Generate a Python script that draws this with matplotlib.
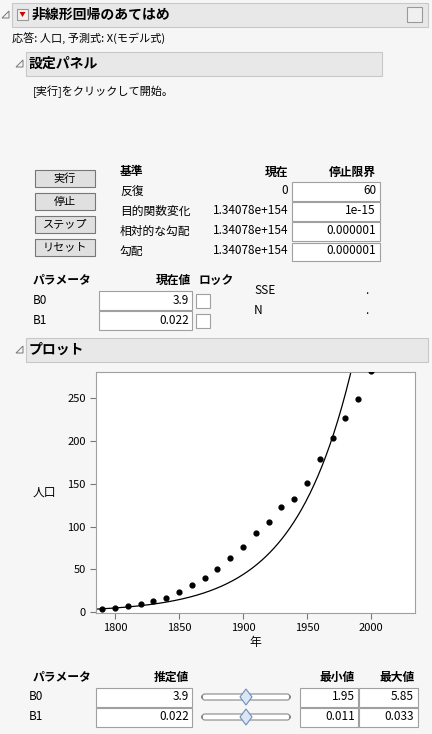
import numpy as np
import matplotlib.pyplot as plt
from matplotlib.patches import Rectangle, FancyBboxPatch, Polygon

plt.rcParams['font.family'] = ['Noto Sans CJK JP', 'DejaVu Sans']

years = [1790, 1800, 1810, 1820, 1830, 1840, 1850, 1860, 1870, 1880, 1890,
         1900, 1910, 1920, 1930, 1940, 1950, 1960, 1970, 1980, 1990, 2000]
pop = [3.9, 5.3, 7.2, 9.6, 12.9, 17.1, 23.2, 31.4, 39.8, 50.2, 62.9,
       76.0, 92.0, 105.7, 122.8, 131.7, 151.3, 179.3, 203.3, 226.5, 248.7, 281.4]
b0, b1 = 3.9, 0.022
crit_names = ['反復', '目的関数変化', '相対的な勾配', '勾配']
crit_now = ['0', '1.34078e+154', '1.34078e+154', '1.34078e+154']
crit_lim = ['60', '1e-15', '0.000001', '0.000001']
buttons = ['実行', '停止', 'ステップ', 'リセット']
params = ['B0', 'B1']
est = ['3.9', '0.022']
pmin = ['1.95', '0.011']
pmax = ['5.85', '0.033']

W, H = 432, 734
fig = plt.figure(figsize=(W / 100, H / 100), dpi=100, facecolor='#f6f6f6')

def T(x, y, s, size=8.5, ha='left', bold=False, **kw):
    fig.text(x / W, 1 - y / H, s, fontsize=size, ha=ha, va='center',
             fontweight='bold' if bold else 'normal', **kw)

def box(x, y, w, h, fc='white', ec='#a0a0a0', lw=0.8):
    fig.patches.append(Rectangle((x / W, 1 - (y + h) / H), w / W, h / H, fc=fc, ec=ec, lw=lw,
                                 transform=fig.transFigure))

def tri(x, y):
    fig.patches.append(Polygon([((x) / W, 1 - (y + 7) / H), ((x + 7) / W, 1 - (y + 7) / H),
                                ((x + 7) / W, 1 - y / H)], closed=True, fc='none', ec='#777', lw=0.7,
                               transform=fig.transFigure))

# headers
box(12, 3, 416, 24, fc='#e8e8e8', ec='#c8c8c8')
tri(2, 11)
box(17, 9, 11, 11, fc='#f0f0f0', ec='#999')
fig.patches.append(Polygon([(19.5 / W, 1 - 12 / H), (25.5 / W, 1 - 12 / H), (22.5 / W, 1 - 17 / H)],
                           fc='#d00000', ec='none', transform=fig.transFigure))
T(32, 15, '非線形回帰のあてはめ', 10, bold=True)
box(407, 7, 15, 15, fc='#f0f0f0', ec='#999')
T(12, 39, '応答: 人口, 予測式: X(モデル式)', 8)
box(26, 52, 356, 24, fc='#e8e8e8', ec='#c8c8c8')
tri(16, 60)
T(29, 64, '設定パネル', 10, bold=True)
T(33, 92, '[実行]をクリックして開始。', 8)

for i, b in enumerate(buttons):
    y = 170 + i * 23
    box(35, y, 60, 17, fc='#e0e0e0', ec='#777')
    T(65, y + 8.5, b, 8, ha='center')
T(120, 172, '基準', 8.5, bold=True)
T(288, 172, '現在', 8.5, ha='right', bold=True)
T(376, 172, '停止限界', 8.5, ha='right', bold=True)
for i in range(4):
    y = 191 + i * 20
    T(120, y, crit_names[i], 8.5)
    T(288, y, crit_now[i], 8.5, ha='right')
    box(292, y - 8.5, 88, 18)
    T(376, y, crit_lim[i], 8.5, ha='right')

T(33, 280, 'パラメータ', 8.5, bold=True)
T(191, 280, '現在値', 8.5, ha='right', bold=True)
T(199, 280, 'ロック', 8.5, bold=True)
for i in range(2):
    y = 300 + i * 20
    T(33, y, params[i], 8.5)
    box(99, y - 9, 93, 19)
    T(189, y, est[i], 8.5, ha='right')
    box(196, y - 6, 14, 14)
T(254, 291, 'SSE', 8.5)
T(254, 311, 'N', 8.5)
T(365, 291, '.', 8.5)
T(365, 311, '.', 8.5)

box(26, 338, 402, 24, fc='#e8e8e8', ec='#c8c8c8')
tri(16, 346)
T(29, 350, 'プロット', 10, bold=True)

# plot
ax = fig.add_axes([96 / W, 1 - 613 / H, (415 - 96) / W, (613 - 372) / H])
ax.set_facecolor('white')
for s in ax.spines.values():
    s.set_color('#a0a0a0')
ax.scatter(years, pop, s=12, color='black', zorder=3)
xx = np.linspace(1785, 2035, 400)
ax.plot(xx, b0 * np.exp(b1 * (xx - 1790)), color='black', lw=0.9)
ax.set_xlim(1785.2, 2034.4)
ax.set_ylim(-1, 280.5)
ax.set_xticks([1800, 1850, 1900, 1950, 2000])
ax.set_yticks([0, 50, 100, 150, 200, 250])
ax.tick_params(labelsize=8, length=4, color='#777')
ax.set_xlabel('年', fontsize=8.5, labelpad=2)
T(33, 492, '人口', 8.5)

T(33, 677, 'パラメータ', 8.5, bold=True)
T(189, 677, '推定値', 8.5, ha='right', bold=True)
T(355, 677, '最小値', 8.5, ha='right', bold=True)
T(415, 677, '最大値', 8.5, ha='right', bold=True)
for i in range(2):
    y = 697 + i * 20
    T(29, y, params[i], 8.5)
    box(96, y - 9.5, 96, 19.5)
    T(189, y, est[i], 8.5, ha='right')
    fig.patches.append(FancyBboxPatch((202 / W, 1 - (y + 3) / H), 88 / W, 6 / H,
                                      boxstyle='round,pad=0,rounding_size=0.006', fc='white', ec='#888',
                                      lw=0.8, transform=fig.transFigure))
    fig.patches.append(Polygon([(246 / W, 1 - (y - 8) / H), (252 / W, 1 - y / H),
                                (246 / W, 1 - (y + 8) / H), (240 / W, 1 - y / H)],
                               fc='#dbe6f4', ec='#6f8fb8', lw=0.8, transform=fig.transFigure))
    box(300, y - 9.5, 58, 19.5)
    T(355, y, pmin[i], 8.5, ha='right')
    box(359, y - 9.5, 59, 19.5)
    T(414, y, pmax[i], 8.5, ha='right')

fig.savefig('out.png', dpi=100, facecolor=fig.get_facecolor())
